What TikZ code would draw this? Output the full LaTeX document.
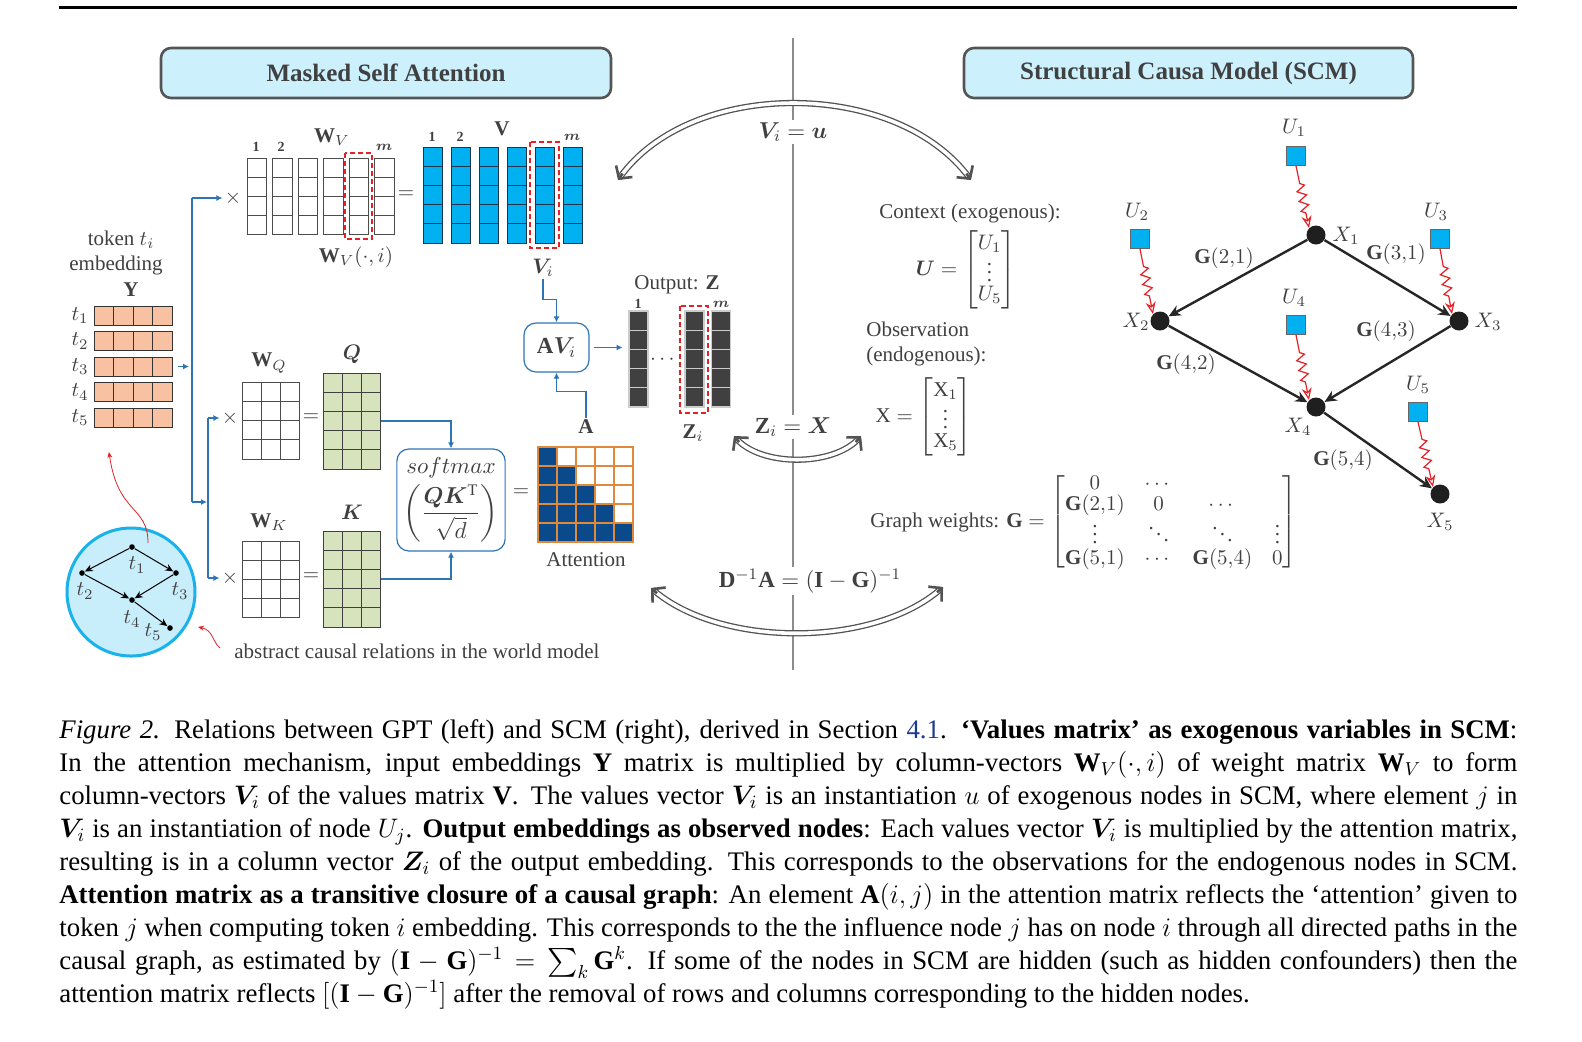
\RequirePackage{fix-cm}
\documentclass[tikz,border=0pt]{standalone}
\usepackage{amsmath,bm}
\usepackage{fontspec}
\setmainfont{Liberation Serif}
\usetikzlibrary{arrows.meta,decorations.pathmorphing,calc}
\definecolor{txt}{HTML}{404040}
\definecolor{tbfill}{HTML}{CCF1FC}
\definecolor{tbdraw}{HTML}{555555}
\definecolor{vcyan}{HTML}{00B0F0}
\definecolor{vline}{HTML}{1E3550}
\definecolor{peach}{HTML}{F8C1A2}
\definecolor{qgreen}{HTML}{D6E3BC}
\definecolor{anavy}{HTML}{0A4A8A}
\definecolor{aorange}{HTML}{E0893C}
\definecolor{zgray}{HTML}{404040}
\definecolor{blu}{HTML}{2E75B6}
\definecolor{rdash}{HTML}{E32227}
\definecolor{circfill}{HTML}{C9EEFB}
\definecolor{circdraw}{HTML}{19B2EA}
\definecolor{citeblue}{HTML}{1F3A93}
\begin{document}
\begin{tikzpicture}[x=0.5pt,y=-0.5pt,
  lbl/.style={text=txt,inner sep=1pt,font=\fontsize{10.5}{12.5}\selectfont},
  numl/.style={text=txt,inner sep=0.5pt,font=\fontsize{7}{8}\selectfont},
  wcell/.style={draw=black!70,line width=0.5pt,fill=white},
  vcell/.style={draw=vline,line width=0.5pt,fill=vcyan},
  ycell/.style={draw=black!80,line width=0.5pt,fill=peach},
  qcell/.style={draw=black!75,line width=0.5pt,fill=qgreen},
  acell/.style={draw=aorange,line width=0.6pt},
  zcell/.style={draw=black!20,line width=0.6pt,fill=zgray},
  hidden/.style={inner sep=0,draw=none},
  bl/.style={draw=blu,line width=0.6pt},
  blar/.style={bl,-{Latex[length=3pt,width=3pt]}},
  rbox/.style={draw=blu,line width=0.6pt,rounded corners=6pt,fill=white,text=txt},
  titlebox/.style={draw=tbdraw,line width=1.3pt,fill=tbfill,rounded corners=5pt,font=\fontsize{12.5}{14}\selectfont\bfseries,text=txt},
  reddash/.style={draw=rdash,line width=0.9pt,dash pattern=on 2.5pt off 1.5pt},
  dbl/.style={draw=black!68,double=white,double distance=1.8pt,line width=0.65pt,shorten <=1.2pt,shorten >=1.2pt},
  dtip/.style={draw=black!68,line width=1.3pt,-{Straight Barb[length=4.5pt,width=10pt]}},
  gedge/.style={draw=black!85,line width=1.2pt,-{Stealth[length=6pt,width=5.5pt]}},
  xnode/.style={circle,fill=black!88,minimum size=9.5pt,inner sep=0},
  unode/.style={rectangle,fill=vcyan,draw=black!60,line width=0.4pt,minimum size=9.5pt,inner sep=0},
  zz/.style={draw=rdash,line width=0.6pt,decorate,decoration={zigzag,segment length=5pt,amplitude=2.2pt,pre length=9pt,post length=7pt},-{Stealth[open,length=6pt,width=5pt]}},
  tdot/.style={circle,fill=black,minimum size=2.8pt,inner sep=0},
  tedge/.style={draw=black,line width=0.5pt,-{Stealth[length=4pt,width=3.5pt]}},
  redc/.style={draw=rdash,line width=0.4pt,-{Stealth[length=3pt,width=2.5pt]}}
]
\useasboundingbox (0,0) rectangle (1582,1041);
\fill[white] (0,0) rectangle (1582,1041);

% header rule and divider
\draw[line width=1.5pt] (59,7) -- (1517,7);
\draw[black!45,line width=0.6pt] (793,38) -- (793,670);

% titles
\node[titlebox,minimum width=225pt,minimum height=25pt] (ttl1) at (386,73) {Masked Self Attention};
\node[titlebox,minimum width=224.5pt,minimum height=25pt] (ttl2) at (1188.5,73) {Structural Causa Model (SCM)};

% ---------- W_V ----------
\foreach \cx in {247,272.5,298,323.5,349,374.5}{\foreach \r in {0,...,3}{\draw[wcell] (\cx,{158+\r*19}) rectangle ++(19.5,19);}}
\draw[reddash] (345,153) rectangle (372,239);
\node[numl] (wv1) at (256,147) {$\mathbf{1}$};
\node[numl] (wv2) at (281,147) {$\mathbf{2}$};
\node[numl] (wvm) at (384,147) {$\bm{m}$};
\node[lbl] (wvlab) at (332,137) {$\mathbf{W}_V$};
\node[lbl] (wvi) at (356,257) {$\mathbf{W}_V(\cdot,i)$};
\node[lbl] (timesV) at (233,198) {$\times$};
\node[lbl] (eqV) at (406,195) {$=$};

% ---------- V ----------
\foreach \cx in {423,451,479,507,535,563}{\foreach \r in {0,...,4}{\draw[vcell] (\cx,{147+\r*19.2}) rectangle ++(19.5,19.2);}}
\draw[reddash] (530,142) rectangle (559,248);
\node[numl] (v1) at (432,137) {$\mathbf{1}$};
\node[numl] (v2) at (460,137) {$\mathbf{2}$};
\node[numl] (vm) at (572,137) {$\bm{m}$};
\node[lbl] (vlab) at (502,129) {$\mathbf{V}$};
\node[lbl] (Vi) at (543,268) {$\bm{V}_i$};

% ---------- Y ----------
\node[lbl,align=center] (tok) at (121,240) {token $t_i$};
\node[lbl] (emb) at (116,265) {embedding};
\node[lbl] (ylab) at (131,290) {$\mathbf{Y}$};
\foreach \r [count=\k] in {306,331.5,357,382.5,408}{
  \foreach \c in {0,...,3}{\draw[ycell] ({94+\c*19.5},\r) rectangle ++(19.5,19);}
  \node[lbl] (yt\k) at (80,{\r+9.5}) {$t_{\k}$};}
\node[hidden,minimum width=39pt,minimum height=60.5pt] (Y) at (133,366.5) {};

% ---------- W_Q, Q, W_K, K ----------
\foreach \c in {0,...,2}{\foreach \r in {0,...,3}{
  \draw[wcell] ({242+\c*19},{382+\r*19.25}) rectangle ++(19,19.25);
  \draw[wcell] ({242+\c*19},{541+\r*19}) rectangle ++(19,19);}}
\foreach \c in {0,...,2}{\foreach \r in {0,...,4}{
  \draw[qcell] ({323+\c*19.33},{373+\r*19.2}) rectangle ++(19.33,19.2);
  \draw[qcell] ({323+\c*19.33},{531+\r*19.2}) rectangle ++(19.33,19.2);}}
\node[hidden,minimum width=29pt,minimum height=48pt] (Q) at (352,421) {};
\node[hidden,minimum width=29pt,minimum height=48pt] (K) at (352,579) {};
\node[lbl] (wqlab) at (269,363) {$\mathbf{W}_Q$};
\node[lbl] (qlab) at (352,354) {$\bm{Q}$};
\node[lbl] (wklab) at (269,522) {$\mathbf{W}_K$};
\node[lbl] (klab) at (352,512) {$\bm{K}$};
\node[lbl] (timesQ) at (230,418) {$\times$};
\node[lbl] (timesK) at (230,578) {$\times$};
\node[lbl] (eqQ) at (311,418) {$=$};
\node[lbl] (eqK) at (311,577) {$=$};

% ---------- bus connectors ----------
\coordinate (busY) at (189,366.5);
\coordinate (busTop) at (192,198);
\coordinate (busBot) at (192,502);
\coordinate (bus2) at (207,502);
\coordinate (bus2top) at (208,418);
\coordinate (bus2bot) at (208,578);
\draw[blar] ([xshift=3pt]Y.east) -- (busY);
\draw[bl] (busTop) -- (busBot);
\draw[blar] (busTop) -- (timesV.west);
\draw[blar] (busBot) -- (bus2);
\draw[bl] (bus2top) -- (bus2bot);
\draw[blar] (bus2top) -- (timesQ.west);
\draw[blar] (bus2bot) -- (timesK.west);

% ---------- softmax ----------
\node[rbox,minimum width=54pt,minimum height=51pt,align=center,font=\fontsize{11.5}{13}\selectfont] (smax) at (451,500)
  {$softmax$\\[2pt]$\left(\dfrac{\bm{QK}^{\mathrm{T}}}{\sqrt{d}}\right)$};
\draw[blar] (Q.east) -| (smax.north);
\draw[blar] (K.east) -| (smax.south);
\node[lbl] (eqA) at (521,493) {$=$};

% ---------- attention ----------
\foreach \r in {0,...,4}{\foreach \c in {0,...,4}{
  \ifnum\c>\r \def\fc{white}\else\def\fc{anavy}\fi
  \draw[acell,fill=\fc] ({538+\c*19},{447+\r*19}) rectangle ++(19,19);}}
\node[lbl] (Alab) at (586,427) {$\mathbf{A}$};
\node[lbl] (attn) at (586,560) {Attention};

% ---------- AV_i ----------
\node[rbox,minimum width=32.5pt,minimum height=24.5pt,font=\fontsize{11.5}{13}\selectfont] (AVi) at (556.5,347.5) {$\mathbf{A}\bm{V}_i$};
\draw[blar] (Vi.south) -- ++(0,20) -| (AVi.north);
\draw[blar] (Alab.north) -- ++(0,-26) -| (AVi.south);

% ---------- Z ----------
\foreach \cx in {629,685,711.5}{\foreach \r in {0,...,4}{\draw[zcell] (\cx,{311+\r*19.2}) rectangle ++(19,19.2);}}
\draw[reddash] (680,306) rectangle (708,413);
\node[hidden,minimum width=9.5pt,minimum height=48pt] (Z1) at (638.5,359) {};
\node[lbl] (outz) at (677,285) {Output: $\mathbf{Z}$};
\node[numl] (z1) at (638,304) {$\mathbf{1}$};
\node[numl] (zm) at (721,304) {$\bm{m}$};
\node[lbl] (zdots) at (664,360) {$\cdots$};
\node[lbl] (Zi) at (693,433) {$\mathbf{Z}_i$};
\draw[blar] ([xshift=2pt]AVi.east) -- ([xshift=-3pt]AVi.east -| Z1.west);

% ---------- causal circle ----------
\node[circle,fill=circfill,draw=circdraw,line width=1.5pt,minimum size=64pt,inner sep=0] (circ) at (131,592) {};
\node[tdot] (ct1) at (132,547) {};
\node[tdot] (ct2) at (82,573) {};
\node[tdot] (ct3) at (176,573) {};
\node[tdot] (ct4) at (132,600) {};
\node[tdot] (ct5) at (170,628) {};
\draw[tedge] (ct1) -- (ct2);
\draw[tedge] (ct1) -- (ct3);
\draw[tedge] (ct2) -- (ct4);
\draw[tedge] (ct3) -- (ct4);
\draw[tedge] (ct4) -- (ct5);
\node[lbl] (lt1) at (137,565) {$t_1$};
\node[lbl] (lt2) at (85,591) {$t_2$};
\node[lbl] (lt3) at (180,591) {$t_3$};
\node[lbl] (lt4) at (132,619) {$t_4$};
\node[lbl] (lt5) at (153,632) {$t_5$};
\coordinate (rc1) at (148,543);
\coordinate (rc2) at (109,452);
\draw[redc] (rc1) .. controls (148,505) and (118,515) .. (rc2);
\coordinate (rd1) at (220,648);
\coordinate (rd2) at (198,627);
\draw[redc] (rd1) .. controls (212,641) and (213,630) .. (rd2);
\node[lbl,anchor=west] (abst) at (232,651) {abstract causal relations in the world model};

% ---------- double arrows ----------
\coordinate (aTL) at (618,180);
\coordinate (aTR) at (971,180);
\coordinate (aML) at (734,436);
\coordinate (aMR) at (861,436);
\coordinate (aBL) at (651,588);
\coordinate (aBR) at (943,587);
\coordinate (bTL) at (622.6,173.5);
\coordinate (bTR) at (966.3,173.6);
\coordinate (bML) at (739.1,442.1);
\coordinate (bMR) at (855.7,442);
\coordinate (bBL) at (657,593.2);
\coordinate (bBR) at (937,592.3);
\draw[dbl] (aTL) .. controls (690,78) and (896,78) .. (aTR);
\draw[dbl] (aML) .. controls (760,467) and (834,467) .. (aMR);
\draw[dbl] (aBL) .. controls (720,648) and (874,648) .. (aBR);
\draw[dtip] (bTL) -- (aTL);
\draw[dtip] (bTR) -- (aTR);
\draw[dtip] (bML) -- (aML);
\draw[dtip] (bMR) -- (aMR);
\draw[dtip] (bBL) -- (aBL);
\draw[dtip] (bBR) -- (aBR);
\node[lbl,fill=white,font=\fontsize{11.5}{13}\selectfont] (eqVu) at (793,132) {$\bm{V}_i=\bm{u}$};
\node[lbl,fill=white,font=\fontsize{11.5}{13}\selectfont] (eqZX) at (793,427) {$\mathbf{Z}_i=\bm{X}$};
\node[lbl,fill=white,font=\fontsize{11.5}{13}\selectfont] (eqDA) at (810,581) {$\mathbf{D}^{-1}\mathbf{A}=(\mathbf{I}-\mathbf{G})^{-1}$};

% ---------- SCM text ----------
\node[lbl] (ctx) at (970,213) {Context (exogenous):};
\node[lbl] (Umat) at (966,270) {$\bm{U}=\begin{bmatrix}U_1\\[-3pt] \vdots\\[-3pt] U_5\end{bmatrix}$};
\node[lbl,anchor=west,align=left] (obs) at (864,344) {Observation\\(endogenous):};
\node[lbl] (Xmat) at (924,417) {$\mathrm{X}=\begin{bmatrix}\mathrm{X}_1\\[-3pt] \vdots\\[-3pt] \mathrm{X}_5\end{bmatrix}$};
\node[lbl,anchor=west] (Gmat) at (868,522) {Graph weights: $\mathbf{G}=\begin{bmatrix}0 & \cdots & & \\[-2pt] \mathbf{G}(2{,}1) & 0 & \cdots & \\[-2pt] \vdots & \ddots & \ddots & \vdots\\[-2pt] \mathbf{G}(5{,}1) & \cdots & \mathbf{G}(5{,}4) & 0\end{bmatrix}$};

% ---------- SCM graph ----------
\node[xnode] (X1) at (1316,235) {};
\node[xnode] (X2) at (1160,321) {};
\node[xnode] (X3) at (1459,321) {};
\node[xnode] (X4) at (1316,407) {};
\node[xnode] (X5) at (1440,494) {};
\node[unode] (U1) at (1296,156) {};
\node[unode] (U2) at (1140,239) {};
\node[unode] (U3) at (1440,239) {};
\node[unode] (U4) at (1296,325) {};
\node[unode] (U5) at (1418,412) {};
\node[lbl] (lU1) at (1294,128) {$U_1$};
\node[lbl] (lU2) at (1137,212) {$U_2$};
\node[lbl] (lU3) at (1436,212) {$U_3$};
\node[lbl] (lU4) at (1294,298) {$U_4$};
\node[lbl] (lU5) at (1418,385) {$U_5$};
\node[lbl] (lX1) at (1346,236) {$X_1$};
\node[lbl] (lX2) at (1136,322) {$X_2$};
\node[lbl] (lX3) at (1488,322) {$X_3$};
\node[lbl] (lX4) at (1298,427) {$X_4$};
\node[lbl] (lX5) at (1440,522) {$X_5$};
\draw[gedge] (X1) -- (X2);
\draw[gedge] (X1) -- (X3);
\draw[gedge] (X2) -- (X4);
\draw[gedge] (X3) -- (X4);
\draw[gedge] (X4) -- (X5);
\draw[zz] (U1.south) -- (X1.north west);
\draw[zz] (U2.south) -- (X2.north west);
\draw[zz] (U3.south) -- (X3.north west);
\draw[zz] (U4.south) -- (X4.north west);
\draw[zz] (U5.south) -- (X5.north west);
\node[lbl] (g21) at (1224,258) {$\mathbf{G}(2{,}1)$};
\node[lbl] (g31) at (1396,254) {$\mathbf{G}(3{,}1)$};
\node[lbl] (g43) at (1386,331) {$\mathbf{G}(4{,}3)$};
\node[lbl] (g42) at (1186,364) {$\mathbf{G}(4{,}2)$};
\node[lbl] (g54) at (1343,460) {$\mathbf{G}(5{,}4)$};

% ---------- caption ----------
\node[anchor=north west,inner sep=0,text width=729pt,align=justify,font=\fontsize{13.4}{16.52}\selectfont] (cap) at (59,719) {%
\textit{Figure 2.} Relations between GPT (left) and SCM (right), derived in Section {\color{citeblue}4.1}. \textbf{`Values matrix' as exogenous variables in SCM}:\linebreak
In the attention mechanism, input embeddings $\mathbf{Y}$ matrix is multiplied by column-vectors $\mathbf{W}_V(\cdot,i)$ of weight matrix $\mathbf{W}_V$ to form\linebreak
column-vectors $\bm{V}_i$ of the values matrix $\mathbf{V}$. The values vector $\bm{V}_i$ is an instantiation $u$ of exogenous nodes in SCM, where element $j$ in\linebreak
$\bm{V}_i$ is an instantiation of node $U_j$. \textbf{Output embeddings as observed nodes}: Each values vector $\bm{V}_i$ is multiplied by the attention matrix,\linebreak
resulting is in a column vector $\bm{Z}_i$ of the output embedding. This corresponds to the observations for the endogenous nodes in SCM.\linebreak
\textbf{Attention matrix as a transitive closure of a causal graph}: An element $\mathbf{A}(i,j)$ in the attention matrix reflects the `attention' given to\linebreak
token $j$ when computing token $i$ embedding. This corresponds to the the influence node $j$ has on node $i$ through all directed paths in the\linebreak
causal graph, as estimated by $(\mathbf{I}-\mathbf{G})^{-1}=\sum_k \mathbf{G}^k$. If some of the nodes in SCM are hidden (such as hidden confounders) then the\linebreak
attention matrix reflects $[(\mathbf{I}-\mathbf{G})^{-1}]$ after the removal of rows and columns corresponding to the hidden nodes.};
\end{tikzpicture}
\end{document}
